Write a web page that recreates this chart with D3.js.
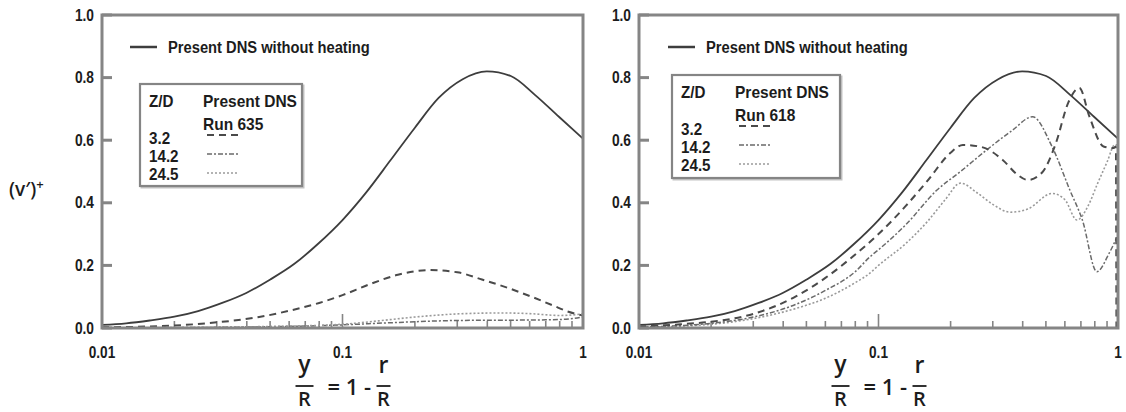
<!DOCTYPE html>
<html>
<head>
<meta charset="utf-8">
<script src="https://cdn.jsdelivr.net/npm/d3@7"></script>
<style>
  html, body { margin: 0; padding: 0; background: #fff; }
  svg { display: block; }
</style>
</head>
<body>
<svg id="chart" width="1126" height="412"></svg>
<script>
// ---- data -------------------------------------------------------------
const xTickValues = [0.01, 0.1, 1];
const xTickLabels = ["0.01", "0.1", "1"];
const yTickValues = [0, 0.2, 0.4, 0.6, 0.8, 1.0];
const yTickLabels = ["0.0", "0.2", "0.4", "0.6", "0.8", "1.0"];
const zdLabels = ["3.2", "14.2", "24.5"];
const runLabels = ["Run 635", "Run 618"];

// Present DNS without heating (same reference curve in both panels)
const baseX = [0.01, 0.0126, 0.0158, 0.02, 0.0251, 0.0316, 0.0398, 0.0501, 0.0631, 0.0794, 0.1, 0.126, 0.158, 0.2, 0.251, 0.316, 0.398, 0.501, 0.631, 0.794, 1.0];
const baseV = [0.010, 0.015, 0.024, 0.036, 0.054, 0.08, 0.112, 0.155, 0.205, 0.27, 0.345, 0.435, 0.535, 0.64, 0.735, 0.795, 0.82, 0.805, 0.745, 0.675, 0.605];

// Run 635, Z/D = 3.2, 14.2, 24.5
const r635z3X = [0.01, 0.02, 0.03, 0.045, 0.06, 0.08, 0.1, 0.13, 0.17, 0.23, 0.3, 0.38, 0.5, 0.62, 0.75, 0.87, 1.0];
const r635z3V = [0.002, 0.008, 0.018, 0.035, 0.055, 0.08, 0.105, 0.14, 0.17, 0.185, 0.178, 0.155, 0.125, 0.098, 0.072, 0.052, 0.04];
const r635z14X = [0.01, 0.05, 0.1, 0.15, 0.2, 0.3, 0.5, 0.7, 0.85, 1.0];
const r635z14V = [0.0, 0.004, 0.01, 0.016, 0.02, 0.024, 0.025, 0.026, 0.028, 0.035];
const r635z24X = [0.01, 0.05, 0.1, 0.15, 0.2, 0.3, 0.45, 0.6, 0.8, 1.0];
const r635z24V = [0.0, 0.005, 0.012, 0.025, 0.035, 0.045, 0.048, 0.046, 0.04, 0.045];

// Run 618, Z/D = 3.2, 14.2, 24.5
const r618z3X = [0.01, 0.015, 0.02, 0.03, 0.045, 0.06, 0.08, 0.1, 0.13, 0.16, 0.2, 0.225, 0.27, 0.33, 0.38, 0.42, 0.48, 0.55, 0.62, 0.69, 0.76, 0.87, 0.96, 0.98, 0.985];
const r618z3V = [0.005, 0.012, 0.02, 0.045, 0.1, 0.16, 0.235, 0.3, 0.39, 0.47, 0.56, 0.585, 0.578, 0.537, 0.49, 0.473, 0.495, 0.59, 0.72, 0.767, 0.675, 0.58, 0.575, 0.58, 0.0];
const r618z14X = [0.01, 0.02, 0.03, 0.045, 0.06, 0.08, 0.092, 0.1, 0.13, 0.175, 0.22, 0.284, 0.36, 0.44, 0.53, 0.63, 0.71, 0.816, 0.92, 0.99];
const r618z14V = [0.003, 0.015, 0.035, 0.075, 0.12, 0.18, 0.227, 0.25, 0.33, 0.44, 0.5, 0.57, 0.63, 0.675, 0.58, 0.44, 0.345, 0.18, 0.24, 0.29];
const r618z24X = [0.01, 0.02, 0.03, 0.045, 0.06, 0.08, 0.092, 0.1, 0.13, 0.16, 0.19, 0.22, 0.26, 0.3, 0.355, 0.42, 0.53, 0.6, 0.674, 0.75, 0.82, 0.9, 0.97, 1.0];
const r618z24V = [0.002, 0.012, 0.03, 0.062, 0.095, 0.145, 0.175, 0.2, 0.27, 0.34, 0.41, 0.463, 0.43, 0.395, 0.37, 0.38, 0.43, 0.41, 0.345, 0.39, 0.46, 0.53, 0.585, 0.585];

// ---- drawing ----------------------------------------------------------
const svg = d3.select("#chart");
const INK = "#1c1c1c";
const FRAME = "#858585";
const FONT = "'Liberation Sans', Arial, Helvetica, sans-serif";
const TITLE_FONT = "'Open Sans', 'Noto Sans', sans-serif";

function label(parent, x, y, s, size, anchor, sx) {
  const g = parent.append("g")
    .attr("transform", `translate(${x},${y}) scale(${sx || 1},1)`);
  return g.append("text")
    .attr("text-anchor", anchor || "start")
    .attr("fill", INK)
    .style("font-family", FONT)
    .style("font-weight", "bold")
    .style("font-size", size + "px")
    .text(s);
}

const styles = {
  base: { stroke: "#3d3d3d", width: 1.8, dash: null },
  z3:   { stroke: "#4a4a4a", width: 2.0, dash: "7,5" },
  z14:  { stroke: "#6a6a6a", width: 1.5, dash: "5,2,2,2" },
  z24:  { stroke: "#9a9a9a", width: 1.6, dash: "2,2" }
};

const panels = [
  { left: 102, right: 583, run: runLabels[0], id: "p635",
    legendLine: [130, 157], legendText: 168,
    box: { x: 140, y: 84, w: 162, h: 102 },
    series: [
      { x: baseX, v: baseV, s: styles.base },
      { x: r635z3X, v: r635z3V, s: styles.z3 },
      { x: r635z14X, v: r635z14V, s: styles.z14 },
      { x: r635z24X, v: r635z24V, s: styles.z24 }
    ] },
  { left: 639, right: 1118, run: runLabels[1], id: "p618",
    legendLine: [668, 695], legendText: 706,
    box: { x: 672, y: 75, w: 168, h: 103 },
    series: [
      { x: baseX, v: baseV, s: styles.base },
      { x: r618z24X, v: r618z24V, s: styles.z24 },
      { x: r618z14X, v: r618z14V, s: styles.z14 },
      { x: r618z3X, v: r618z3V, s: styles.z3 }
    ] }
];

const plotTop = 15, plotBottom = 328;

panels.forEach(p => {
  const x = d3.scaleLog().domain([0.01, 1]).range([p.left, p.right]);
  const y = d3.scaleLinear().domain([0, 1]).range([plotBottom, plotTop]);
  const g = svg.append("g");

  g.append("clipPath").attr("id", "clip-" + p.id)
    .append("rect").attr("x", p.left).attr("y", plotTop)
    .attr("width", p.right - p.left).attr("height", plotBottom - plotTop);

  // minor / major ticks along the bottom, pointing inward
  const minor = [];
  [0.01, 0.1].forEach(d => { for (let k = 2; k <= 9; k++) minor.push(d * k); });
  g.selectAll(".minor").data(minor).join("line")
    .attr("x1", d => x(d)).attr("x2", d => x(d))
    .attr("y1", plotBottom).attr("y2", plotBottom - 7)
    .attr("stroke", FRAME).attr("stroke-width", 1.6);
  g.selectAll(".major").data(xTickValues).join("line")
    .attr("x1", d => x(d)).attr("x2", d => x(d))
    .attr("y1", plotBottom).attr("y2", plotBottom - 14)
    .attr("stroke", FRAME).attr("stroke-width", 1.6);

  // y ticks on the left edge, pointing inward
  g.selectAll(".ytick").data(yTickValues).join("line")
    .attr("x1", p.left).attr("x2", p.left + 10)
    .attr("y1", d => y(d)).attr("y2", d => y(d))
    .attr("stroke", FRAME).attr("stroke-width", 3);

  // curves
  const line = d3.line()
    .x(d => x(d[0])).y(d => y(d[1]))
    .curve(d3.curveMonotoneX);
  const cg = g.append("g").attr("clip-path", `url(#clip-${p.id})`);
  p.series.forEach(sr => {
    const pts = sr.x.map((xv, i) => [xv, sr.v[i]]);
    cg.append("path").datum(pts)
      .attr("d", line)
      .attr("fill", "none")
      .attr("stroke", sr.s.stroke)
      .attr("stroke-width", sr.s.width)
      .attr("stroke-dasharray", sr.s.dash);
  });

  // frame
  g.append("rect")
    .attr("x", p.left).attr("y", plotTop)
    .attr("width", p.right - p.left).attr("height", plotBottom - plotTop)
    .attr("fill", "none").attr("stroke", FRAME).attr("stroke-width", 3);

  // tick labels
  yTickValues.forEach((d, i) =>
    label(g, p.left - 8, y(d) + 5.5, yTickLabels[i], 16, "end", 0.86));
  xTickValues.forEach((d, i) =>
    label(g, x(d), 358, xTickLabels[i], 16, "middle", 0.85));

  // top legend: unheated reference
  g.append("line")
    .attr("x1", p.legendLine[0]).attr("x2", p.legendLine[1])
    .attr("y1", 47).attr("y2", 47)
    .attr("stroke", styles.base.stroke).attr("stroke-width", 2.5);
  label(g, p.legendText, 53, "Present DNS without heating", 16, "start", 0.92);

  // boxed legend for the heated runs
  const b = p.box;
  g.append("rect").attr("x", b.x + 1.5).attr("y", b.y + 1.5)
    .attr("width", b.w).attr("height", b.h)
    .attr("fill", "none").attr("stroke", "#c4c4c4").attr("stroke-width", 2);
  g.append("rect").attr("x", b.x).attr("y", b.y)
    .attr("width", b.w).attr("height", b.h)
    .attr("fill", "#fff").attr("stroke", FRAME).attr("stroke-width", 2.2);
  const tx = b.x + 9, sx = b.x + 63;
  label(g, tx, b.y + 23, "Z/D", 16, "start", 0.95);
  label(g, sx, b.y + 23, "Present DNS", 16, "start", 0.97);
  label(g, sx, b.y + 46, p.run, 16, "start", 0.97);
  const sampleStyles = [styles.z3, styles.z14, styles.z24];
  zdLabels.forEach((t, i) => {
    label(g, tx, b.y + 60 + i * 18, t, 16, "start", 0.95);
    const s = sampleStyles[i];
    g.append("line")
      .attr("x1", sx + 4).attr("x2", sx + 36)
      .attr("y1", b.y + 51 + i * 19).attr("y2", b.y + 51 + i * 19)
      .attr("stroke", s.stroke).attr("stroke-width", s.width)
      .attr("stroke-dasharray", s.dash);
  });

  // x-axis title: y/R = 1 - r/R
  const cx = (p.left + p.right) / 2;
  const t = g.append("g").attr("transform", `translate(${cx},0)`);
  const tstyle = (sel, size) => sel.attr("fill", INK).style("font-family", TITLE_FONT)
    .style("font-weight", 600).style("font-size", size + "px").attr("text-anchor", "middle");
  t.append("text").attr("x", -38).attr("y", 372).text("y").call(tstyle, 23);
  t.append("line").attr("x1", -47).attr("x2", -29).attr("y1", 386).attr("y2", 386)
    .attr("stroke", INK).attr("stroke-width", 1.8);
  t.append("text").attr("x", -38).attr("y", 406).text("R").call(tstyle, 20);
  t.append("text").attr("x", -15).attr("y", 395).text("= 1 -").call(tstyle, 22)
    .attr("text-anchor", "start");
  t.append("text").attr("x", 41).attr("y", 373).text("r").call(tstyle, 23);
  t.append("line").attr("x1", 34).attr("x2", 48).attr("y1", 386).attr("y2", 386)
    .attr("stroke", INK).attr("stroke-width", 1.8);
  t.append("text").attr("x", 41).attr("y", 406).text("R").call(tstyle, 20);
});

// y-axis title
const yt = svg.append("text").attr("x", 9).attr("y", 196)
  .attr("fill", INK).style("font-family", TITLE_FONT)
  .style("font-weight", 600).style("font-size", "19px");
yt.append("tspan").text("(v\u2032)");
yt.append("tspan").attr("dy", -7).style("font-size", "13px").text("+");
</script>
</body>
</html>
